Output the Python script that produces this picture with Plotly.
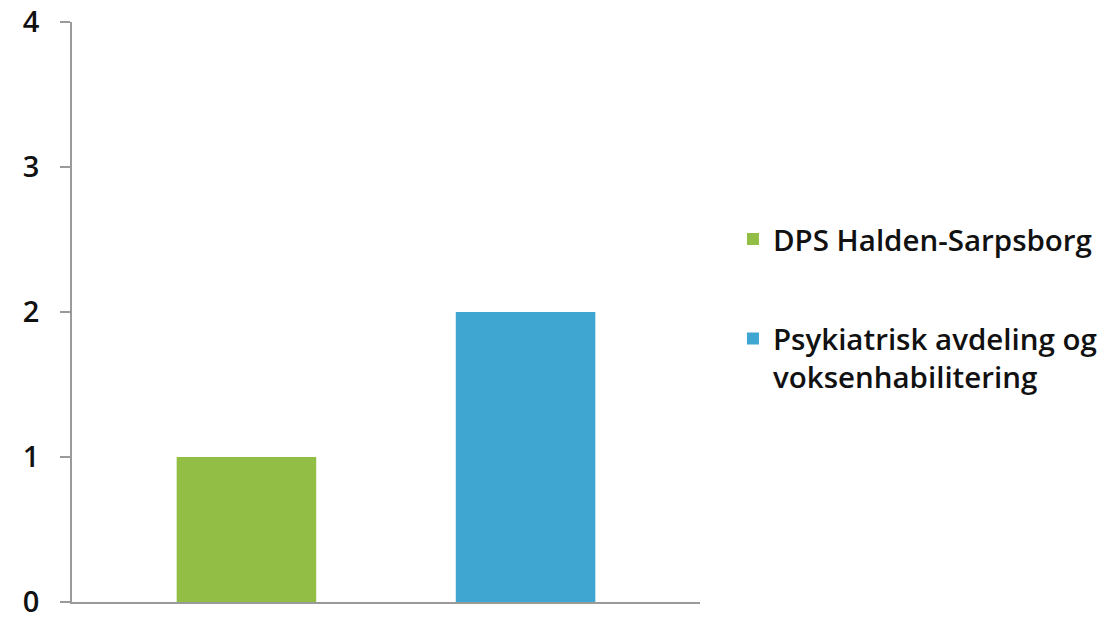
import plotly.graph_objects as go

# Data
series_names = ["DPS Halden-Sarpsborg", "Psykiatrisk avdeling og<br>voksenhabilitering"]
categories = ["DPS", "Psyk"]
values = [1, 2]
colors = ["#92BE46", "#3FA6D2"]

fig = go.Figure()
for i, (name, cat, val, col) in enumerate(zip(series_names, categories, values, colors)):
    fig.add_trace(go.Bar(
        x=[cat],
        y=[val],
        name=name,
        legendgroup=f"g{i}",
        marker=dict(color=col, line=dict(width=0)),
        width=0.5,
    ))

fig.update_layout(
    width=1106,
    height=624,
    paper_bgcolor="white",
    plot_bgcolor="white",
    margin=dict(l=72, r=406, t=22, b=22, autoexpand=False),
    font=dict(family="Open Sans", size=29, color="#111111"),
    showlegend=True,
    legend=dict(
        x=1.0525,
        y=0.67,
        xanchor="left",
        yanchor="top",
        traceorder="grouped",
        tracegroupgap=58,
        valign="top",
        font=dict(size=29.5, weight=600),
    ),
    xaxis=dict(
        type="category",
        range=[-0.625, 1.625],
        showticklabels=False,
        showgrid=False,
        showline=True,
        linecolor="#9a9a9a",
        linewidth=1.5,
        ticks="",
        zeroline=False,
        automargin=False,
    ),
    yaxis=dict(
        range=[0, 4],
        tickvals=[0, 1, 2, 3, 4],
        showgrid=False,
        showline=True,
        linecolor="#9a9a9a",
        linewidth=1.5,
        ticks="outside",
        ticklen=10,
        tickcolor="#9a9a9a",
        tickwidth=1.5,
        ticklabelstandoff=15,
        ticklabeloverflow="allow",
        zeroline=False,
        automargin=False,
        tickfont=dict(size=29, weight=600),
    ),
)

# drop the default page margin so the figure fills the window exactly
fig.write_html(
    "out.html",
    config={"displayModeBar": False},
    post_script="document.body.style.margin='0';",
)
